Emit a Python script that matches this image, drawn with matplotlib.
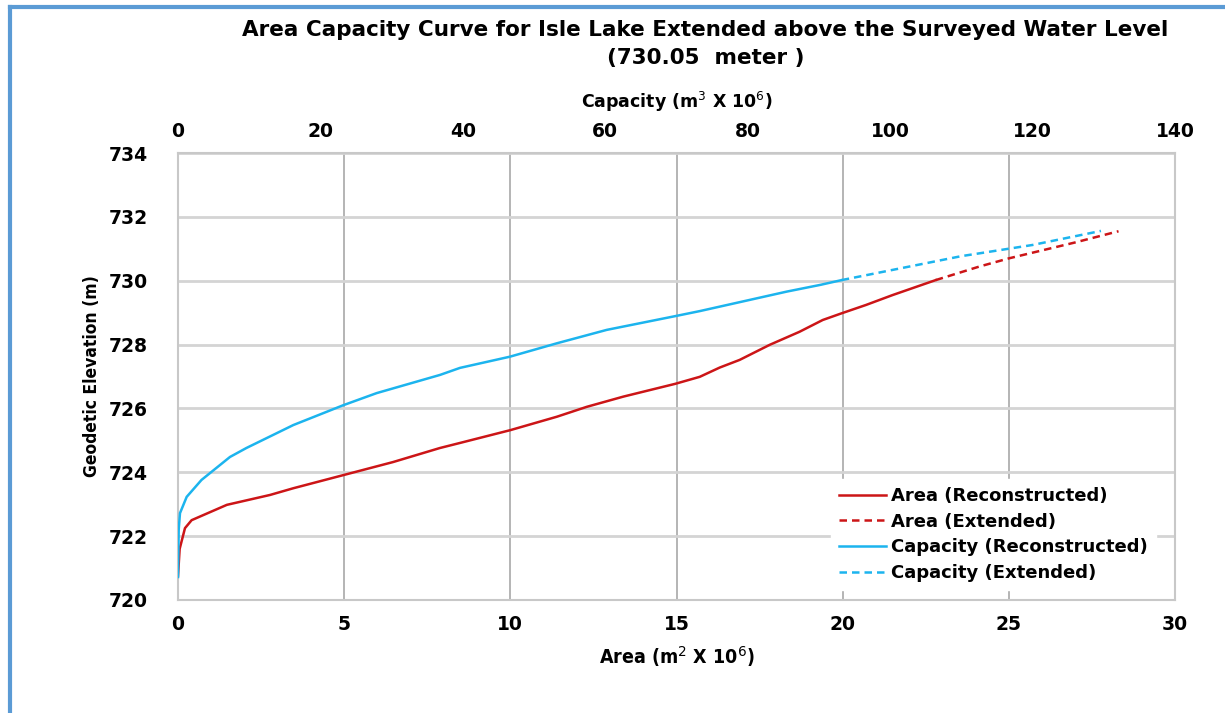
import matplotlib.pyplot as plt
from matplotlib.lines import Line2D

# Area curve (m2 x 10^6) vs elevation (m)
area_rec = [0.0, 0.05, 0.21, 0.41, 1.47, 2.77, 3.47, 4.97, 6.47, 7.88, 8.49, 10.0, 11.4,
            12.3, 13.4, 14.96, 15.7, 16.3, 16.9, 17.8, 18.7, 19.4, 19.97, 20.7, 21.5, 22.8]
elev_area_rec = [720.75, 721.6, 722.25, 722.5, 722.98, 723.29, 723.5, 723.91, 724.32, 724.76,
                 724.92, 725.32, 725.74, 726.05, 726.37, 726.77, 726.99, 727.28, 727.52, 727.99,
                 728.4, 728.77, 728.98, 729.24, 729.55, 730.02]
area_ext = [22.8, 24.1, 25.0, 27.0, 28.3]
elev_area_ext = [730.02, 730.44, 730.7, 731.2, 731.55]

# Capacity curve (m3 x 10^6) vs elevation (m)
cap_rec = [0.0, 0.1, 0.28, 1.22, 3.3, 7.3, 9.6, 16.2, 23.2, 27.9, 36.8, 39.6, 46.6, 53.2,
           60.2, 69.8, 73.3, 76.1, 80.3, 85.5, 90.2, 93.2]
elev_cap_rec = [720.72, 722.2, 722.72, 723.23, 723.76, 724.48, 724.76, 725.48, 726.1, 726.48,
                727.05, 727.27, 727.62, 728.04, 728.46, 728.89, 729.05, 729.19, 729.4, 729.66,
                729.87, 730.02]
cap_ext = [93.2, 110.0, 112.6, 120.0, 129.6]
elev_cap_ext = [730.02, 730.77, 730.86, 731.12, 731.56]

red = '#CC1517'
blue = '#1CB4EE'

fig = plt.figure(figsize=(12.25, 7.13), dpi=100)
ax = fig.add_axes([0.1453, 0.1585, 0.8139, 0.6269])

ax.plot(area_rec, elev_area_rec, color=red, lw=1.8)
ax.plot(area_ext, elev_area_ext, color=red, lw=1.8, ls=(0, (3, 2)))
ax.set_xlim(0, 30)
ax.set_ylim(720, 734)
ax.set_xticks(range(0, 31, 5))
ax.set_yticks(range(720, 735, 2))
ax.grid(axis='x', color='#a8a8a8', lw=1.2)
ax.grid(axis='y', color='#d4d4d4', lw=2.0)
ax.set_axisbelow(True)
for s in ax.spines.values():
    s.set_color('#c8c8c8')
    s.set_linewidth(1.5)
ax.tick_params(axis='x', length=0, labelsize=13.5, pad=11)
ax.tick_params(axis='y', length=0, labelsize=13.5, pad=22)
for t in ax.get_xticklabels() + ax.get_yticklabels():
    t.set_fontweight('bold')
ax.set_xlabel('Area (m$^2$ X 10$^6$)', fontsize=14, fontweight='bold',
              fontstretch='condensed', labelpad=7)
ax.set_ylabel('Geodetic Elevation (m)', fontsize=12.5, fontweight='bold',
              fontstretch='condensed', labelpad=5)

ax2 = ax.twiny()
ax2.plot(cap_rec, elev_cap_rec, color=blue, lw=1.8)
ax2.plot(cap_ext, elev_cap_ext, color=blue, lw=1.8, ls=(0, (3, 2)))
ax2.set_xlim(0, 140)
ax2.set_xticks(range(0, 141, 20))
ax2.tick_params(length=0, labelsize=13.5, pad=9)
for t in ax2.get_xticklabels():
    t.set_fontweight('bold')
for s in ax2.spines.values():
    s.set_visible(False)
ax2.set_xlabel('Capacity (m$^3$ X 10$^6$)', fontsize=12.5, fontweight='bold', labelpad=10)

handles = [Line2D([], [], color=red, lw=1.8),
           Line2D([], [], color=red, lw=1.8, ls=(0, (3, 2))),
           Line2D([], [], color=blue, lw=1.8),
           Line2D([], [], color=blue, lw=1.8, ls=(0, (3, 2)))]
labels = ['Area (Reconstructed)', 'Area (Extended)',
          'Capacity (Reconstructed)', 'Capacity (Extended)']
leg = ax2.legend(handles, labels, loc='lower right', bbox_to_anchor=(0.99, 0.002),
                 frameon=True, fancybox=False, framealpha=1, edgecolor='white',
                 prop={'weight': 'bold', 'size': 13}, handlelength=2.6,
                 handletextpad=0.3, labelspacing=0.42, borderpad=0.45)

fig.text(0.576, 0.958, 'Area Capacity Curve for Isle Lake Extended above the Surveyed Water Level',
         ha='center', va='center', fontsize=15.5, fontweight='bold')
fig.text(0.576, 0.918, '(730.05  meter )', ha='center', va='center',
         fontsize=15.5, fontweight='bold')

# blue frame at top and left like the source image
fig.add_artist(Line2D([0.008, 0.008], [0, 0.99], transform=fig.transFigure,
                      color='#5B9BD5', lw=3))
fig.add_artist(Line2D([0.008, 1.0], [0.99, 0.99], transform=fig.transFigure,
                      color='#5B9BD5', lw=3))

fig.savefig('out.png', dpi=100)
